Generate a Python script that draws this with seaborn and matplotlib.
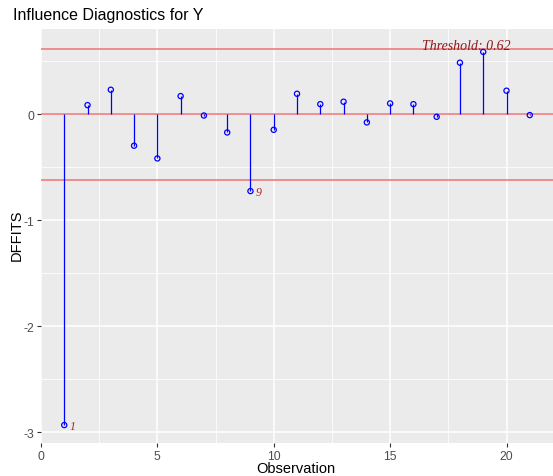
import numpy as np
import pandas as pd
import matplotlib
matplotlib.use("Agg")
import matplotlib.pyplot as plt
import seaborn as sns

# ---- data ----
observation = list(range(1, 22))
dffits = [-2.93, 0.088, 0.233, -0.295, -0.415, 0.173, -0.010, -0.170, -0.723,
          -0.145, 0.195, 0.097, 0.120, -0.075, 0.104, 0.097, -0.022, 0.488,
          0.590, 0.224, -0.006]
threshold = 0.62
x_ticks = [0, 5, 10, 15, 20]
y_ticks = [-3, -2, -1, 0]

df = pd.DataFrame({"obs": observation, "dffits": dffits})

sns.set_theme(style="darkgrid", rc={
    "axes.facecolor": "#EBEBEB",
    "grid.color": "white",
})
plt.rcParams["font.family"] = ["Liberation Sans", "DejaVu Sans"]
plt.rcParams["axes.unicode_minus"] = False

fig = plt.figure(figsize=(5.53, 4.77), dpi=100)
ax = fig.add_axes([0.0741, 0.069, 0.926, 0.869])

# reference lines
for yv in (0, threshold, -threshold):
    ax.axhline(yv, color="#F07272", lw=1.1, zorder=2)

# stems
ax.vlines(df["obs"], 0, df["dffits"], color="blue", lw=0.9, zorder=3)
# points
sns.scatterplot(data=df, x="obs", y="dffits", ax=ax, marker="o", s=14,
                facecolors="none", edgecolor="blue", linewidth=0.9,
                zorder=4, legend=False)

# outlier labels
for o, v in zip(observation, dffits):
    if abs(v) > threshold:
        ax.annotate(str(o), (o, v), xytext=(4, -1), textcoords="offset points",
                    ha="left", va="center", color="#B22222", fontsize=8.5,
                    family="Liberation Serif", style="italic", zorder=5)

ax.text(18.27, threshold + 0.035, f"Threshold: {threshold}", ha="center",
        va="center", color="#8B1A1A", fontsize=10, family="Liberation Serif",
        style="italic", zorder=5)

ax.set_xlim(0, 22)
ax.set_ylim(-3.10, 0.81)
ax.set_xticks(x_ticks)
ax.set_yticks(y_ticks)
ax.set_xticks([2.5, 7.5, 12.5, 17.5], minor=True)
ax.set_yticks([-2.5, -1.5, -0.5, 0.5], minor=True)
ax.grid(which="major", color="white", lw=1.1)
ax.grid(which="minor", color="white", lw=0.55)
ax.tick_params(which="major", length=3, width=0.8, color="#333333",
               labelcolor="#4D4D4D", labelsize=8.8, pad=2, bottom=True, left=True)
ax.tick_params(which="minor", length=0)
for s in ax.spines.values():
    s.set_visible(False)

ax.set_xlabel("")
ax.set_ylabel("")
fig.text(0.5353, 1 - 469 / 477, "Observation", fontsize=10.5, color="black",
         ha="center", va="center")
fig.text(17 / 553, 1 - 235 / 477, "DFFITS", fontsize=10.5, color="black",
         ha="center", va="center", rotation=90)
fig.text(0.0235, 0.968, "Influence Diagnostics for Y", fontsize=11.5,
         ha="left", va="center", color="black")

fig.savefig("out.png", dpi=100)
